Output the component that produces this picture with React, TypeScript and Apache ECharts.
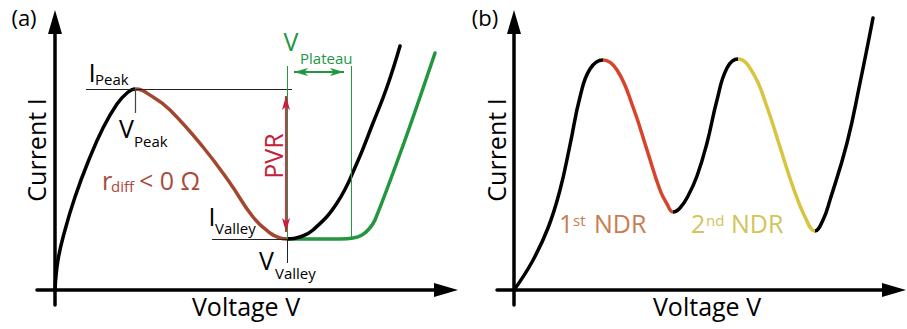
import React, { useEffect, useRef } from "react";
import * as echarts from "echarts";

// ---- Data (schematic units; origin at the axes crossing) ----
// Panel (a): single-NDR I–V curve
const curveA: [number, number][] = [
  [0, 0], [3, 30], [10, 60], [20, 93], [33, 128], [48, 162], [62, 186], [72, 197],
  [80, 201], [98, 193], [115, 180], [148, 143], [175, 107], [198, 73], [215, 57],
  [225, 52], [232, 51], [245, 53], [258, 60], [282, 87], [302, 127], [318, 167],
  [332, 203], [345, 244],
];
// Panel (a): curve with a current plateau after the valley
const plateauCurveA: [number, number][] = [
  [232, 51], [285, 51], [298, 52], [307, 55], [314, 61], [320, 70], [350, 150], [380, 237],
];
// Panel (b): double-NDR I–V curve
const curveB: [number, number][] = [
  [0, 0], [18, 28], [34, 62], [46, 100], [56, 145], [66, 193], [76, 221], [89, 230],
  [103, 220], [119, 183], [133, 140], [146, 100], [153, 86], [159, 78], [166, 82],
  [174, 94], [183, 114], [193, 147], [203, 190], [213, 222], [224, 231], [239, 217],
  [253, 183], [266, 143], [279, 103], [291, 73], [301, 59], [309, 70], [316, 90],
  [333, 147], [346, 207], [359, 272],
];

// key points
const peakA = { v: 80, i: 201 };
const valleyA = { v: 232, i: 51 };
const plateauEndV = 296;
const iPeakLineStart = 31;
const iPeakLineEnd = 237;
const iValleyLineStart = 157;
const vPeakTickBottom = 177;
const vValleyTickBottom = 27;
const guideTop = 224;
const plateauArrowI = 218;

// NDR ranges (voltage)
const ndrA: [number, number] = [80, 232];
const ndrB1: [number, number] = [89, 159];
const ndrB2: [number, number] = [224, 301];

const FONT = '"Open Sans", "Noto Sans", sans-serif';
const BLACK = "#000000";
const BROWN = "#a3462e";
const BROWN_TXT = "#a94a3a";
const GREEN = "#22973f";
const RED = "#c6203a";
const NDR1 = "#d9422b";
const NDR2 = "#d8c43e";
const NDR1_TXT = "#c97d4e";
const NDR2_TXT = "#d2c35a";

function txt(
  text: string, x: number, y: number, size: number, color: string,
  align: string = "center", rotation = 0
) {
  return {
    type: "text", x, y, rotation, silent: true,
    style: {
      text, fontSize: size, fontFamily: FONT, fill: color,
      textAlign: align, textVerticalAlign: "middle",
    },
  };
}

function axisPair(gridIndex: number, xMin: number, xMax: number, yMin: number, yMax: number) {
  const axisLine = {
    show: true, onZero: true,
    symbol: ["none", "triangle"], symbolSize: [14, 24],
    lineStyle: { color: BLACK, width: 3.5 },
  };
  return {
    x: {
      type: "value", gridIndex, min: xMin, max: xMax, axisLine,
      axisTick: { show: false }, axisLabel: { show: false }, splitLine: { show: false },
    },
    y: {
      type: "value", gridIndex, min: yMin, max: yMax, axisLine,
      axisTick: { show: false }, axisLabel: { show: false }, splitLine: { show: false },
    },
  };
}

const seg = (x1: number, y1: number, x2: number, y2: number, color: string, width = 1) => [
  { coord: [x1, y1], lineStyle: { color, width, type: "solid" } },
  { coord: [x2, y2] },
];

export default function App() {
  const ref = useRef<HTMLDivElement>(null);
  useEffect(() => {
    if (!ref.current) return;
    const chart = echarts.init(ref.current, undefined, { renderer: "svg" });
    const a = axisPair(0, -18, 391, -15, 268);
    const b = axisPair(1, -17, 380, -15, 268);
    const arrowHalf = 7;

    const option: any = {
      animation: false,
      backgroundColor: "#ffffff",
      grid: [
        { left: 37, top: 22, width: 409, height: 283 },
        { left: 497, top: 22, width: 397, height: 283 },
      ],
      xAxis: [a.x, b.x],
      yAxis: [a.y, b.y],
      visualMap: [
        {
          show: false, type: "piecewise", seriesIndex: 4, dimension: 0,
          pieces: [{ gt: ndrA[0], lte: ndrA[1], color: BROWN }],
          outOfRange: { color: BLACK },
        },
        {
          show: false, type: "piecewise", seriesIndex: 5, dimension: 0,
          pieces: [
            { gt: ndrB1[0], lte: ndrB1[1], color: NDR1 },
            { gt: ndrB2[0], lte: ndrB2[1], color: NDR2 },
          ],
          outOfRange: { color: BLACK },
        },
      ],
      series: [
        // 0: thin guide lines (black + green)
        {
          type: "line", xAxisIndex: 0, yAxisIndex: 0, data: [], z: 1, silent: true,
          markLine: {
            silent: true, symbol: ["none", "none"], label: { show: false },
            animation: false,
            data: [
              seg(iPeakLineStart, peakA.i, iPeakLineEnd, peakA.i, "#222"),
              seg(peakA.v, peakA.i, peakA.v, vPeakTickBottom, "#444", 1.2),
              seg(iValleyLineStart, valleyA.i, valleyA.v, valleyA.i, "#222"),
              seg(valleyA.v, valleyA.i, valleyA.v, vValleyTickBottom, "#222"),
              seg(valleyA.v, valleyA.i, valleyA.v, guideTop, GREEN),
              seg(plateauEndV, valleyA.i, plateauEndV, guideTop, GREEN),
            ],
          },
        },
        // 1: PVR arrow (red)
        {
          type: "line", xAxisIndex: 0, yAxisIndex: 0, data: [], z: 2, silent: true,
          markLine: {
            silent: true, symbol: ["arrow", "arrow"], symbolSize: [6, 14],
            label: { show: false }, animation: false,
            data: [seg(valleyA.v - 1, peakA.i - arrowHalf, valleyA.v - 1, valleyA.i + arrowHalf, RED, 1.8)],
            itemStyle: { color: RED },
          },
        },
        // 2: V plateau arrow (green)
        {
          type: "line", xAxisIndex: 0, yAxisIndex: 0, data: [], z: 2, silent: true,
          markLine: {
            silent: true, symbol: ["arrow", "arrow"], symbolSize: [6, 14],
            label: { show: false }, animation: false,
            data: [seg(valleyA.v + arrowHalf, plateauArrowI, plateauEndV - arrowHalf, plateauArrowI, GREEN, 1.8)],
            itemStyle: { color: GREEN },
          },
        },
        // 3: plateau curve (green)
        {
          type: "line", xAxisIndex: 0, yAxisIndex: 0, data: plateauCurveA, z: 3,
          smooth: 0.35, showSymbol: false, clip: false, silent: true,
          lineStyle: { color: GREEN, width: 3.5, cap: "round" },
        },
        // 4: main curve (a)
        {
          type: "line", xAxisIndex: 0, yAxisIndex: 0, data: curveA, z: 4,
          smooth: 0.45, showSymbol: false, clip: false, silent: true,
          lineStyle: { width: 3.5, cap: "round" },
        },
        // 5: main curve (b)
        {
          type: "line", xAxisIndex: 1, yAxisIndex: 1, data: curveB, z: 4,
          smooth: 0.45, showSymbol: false, clip: false, silent: true,
          lineStyle: { width: 3.5, cap: "round" },
        },
      ],
      graphic: [
        // panel (a)
        txt("(a)", 24, 17, 22, BLACK),
        txt("Current I", 36, 150, 25, BLACK, "center", Math.PI / 2),
        txt("Voltage V", 246, 306, 25, BLACK),
        txt("I", 92, 72, 26, BLACK),
        txt("Peak", 95, 79, 15, BLACK, "left"),
        txt("V", 126.5, 128, 25, BLACK),
        txt("Peak", 134, 141, 15, BLACK, "left"),
        txt("r", 102, 180, 25, BROWN_TXT, "left"),
        txt("diff", 111, 186, 15, BROWN_TXT, "left"),
        txt("< 0 Ω", 139, 180, 25, BROWN_TXT, "left"),
        txt("I", 212, 216, 25, BLACK),
        txt("Valley", 215, 228, 15, BLACK, "left"),
        txt("V", 266.5, 260, 25, BLACK),
        txt("Valley", 275, 273, 15, BLACK, "left"),
        txt("PVR", 273, 156, 25, RED, "center", Math.PI / 2),
        txt("V", 291, 41, 25, GREEN),
        txt("Plateau", 300, 58, 15, GREEN, "left"),
        // panel (b)
        txt("(b)", 485, 17, 22, BLACK),
        txt("Current I", 496, 150, 25, BLACK, "center", Math.PI / 2),
        txt("Voltage V", 707, 306, 25, BLACK),
        txt("1", 559, 223, 25, NDR1_TXT, "left"),
        txt("st", 573, 220, 15, NDR1_TXT, "left"),
        txt("NDR", 594, 223, 25, NDR1_TXT, "left"),
        txt("2", 691, 223, 25, NDR2_TXT, "left"),
        txt("nd", 706, 220, 15, NDR2_TXT, "left"),
        txt("NDR", 731, 223, 25, NDR2_TXT, "left"),
      ],
    };
    chart.setOption(option);
    return () => chart.dispose();
  }, []);
  return (
    <div
      ref={ref}
      style={{ position: "absolute", left: 0, top: 0, width: 907, height: 329, background: "#fff" }}
    />
  );
}
